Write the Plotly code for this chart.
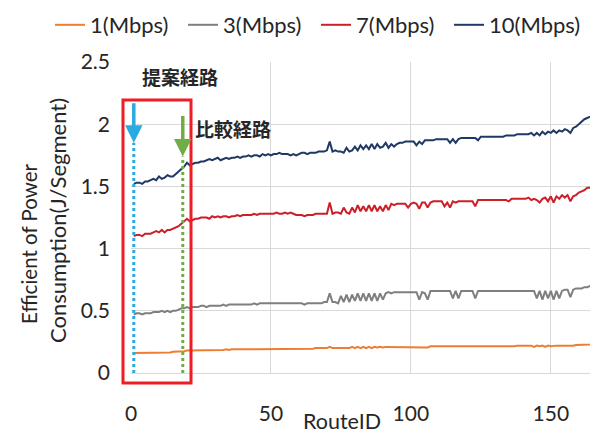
import plotly.graph_objects as go

route_ids = list(range(1, 167))

mbps1 = [0.16,0.16,0.16,0.16,0.16,0.16,0.16,0.165,0.165,0.165,
         0.165,0.165,0.165,0.165,0.17,0.17,0.17,0.17,0.175,0.18,
         0.18,0.18,0.18,0.18,0.185,0.185,0.185,0.185,0.185,0.185,
         0.185,0.185,0.185,0.19,0.185,0.19,0.19,0.19,0.19,0.19,
         0.19,0.19,0.19,0.19,0.19,0.19,0.195,0.19,0.195,0.195,
         0.195,0.195,0.195,0.195,0.195,0.195,0.195,0.195,0.195,0.195,
         0.195,0.195,0.195,0.195,0.195,0.2,0.2,0.2,0.2,0.2,
         0.21,0.2,0.2,0.2,0.205,0.2,0.205,0.2,0.21,0.2,
         0.21,0.2,0.21,0.2,0.21,0.2,0.21,0.205,0.21,0.205,
         0.21,0.21,0.21,0.21,0.21,0.21,0.21,0.21,0.205,0.21,
         0.21,0.21,0.205,0.21,0.21,0.205,0.215,0.215,0.215,0.215,
         0.215,0.21,0.215,0.21,0.215,0.215,0.215,0.215,0.215,0.21,
         0.215,0.215,0.21,0.215,0.215,0.215,0.215,0.215,0.215,0.215,
         0.215,0.215,0.215,0.215,0.215,0.215,0.215,0.22,0.22,0.22,
         0.22,0.215,0.22,0.21,0.22,0.215,0.22,0.21,0.22,0.215,
         0.22,0.22,0.22,0.22,0.22,0.215,0.22,0.22,0.225,0.225,
         0.225,0.23,0.23,0.23,0.235,0.235]

mbps3 = [0.47,0.48,0.48,0.47,0.48,0.48,0.48,0.49,0.49,0.49,
         0.50,0.49,0.50,0.49,0.50,0.50,0.51,0.52,0.52,0.53,
         0.52,0.53,0.53,0.53,0.54,0.54,0.53,0.54,0.54,0.54,
         0.54,0.54,0.55,0.54,0.55,0.55,0.55,0.55,0.55,0.55,
         0.55,0.55,0.55,0.56,0.55,0.56,0.56,0.56,0.56,0.56,
         0.56,0.56,0.56,0.56,0.56,0.56,0.56,0.56,0.56,0.56,
         0.56,0.55,0.56,0.56,0.56,0.56,0.56,0.56,0.57,0.57,
         0.64,0.57,0.57,0.56,0.62,0.57,0.63,0.57,0.63,0.58,
         0.64,0.58,0.64,0.58,0.64,0.58,0.64,0.58,0.64,0.59,
         0.64,0.65,0.64,0.65,0.65,0.65,0.65,0.65,0.65,0.65,
         0.65,0.65,0.59,0.65,0.64,0.59,0.66,0.66,0.66,0.66,
         0.66,0.66,0.66,0.66,0.60,0.66,0.60,0.66,0.66,0.66,
         0.66,0.66,0.60,0.66,0.66,0.66,0.66,0.66,0.66,0.66,
         0.66,0.66,0.66,0.66,0.66,0.66,0.66,0.66,0.66,0.66,
         0.66,0.66,0.66,0.66,0.60,0.66,0.59,0.66,0.60,0.66,
         0.59,0.66,0.60,0.66,0.67,0.67,0.61,0.67,0.68,0.68,
         0.68,0.69,0.69,0.70,0.70,0.70]

mbps7 = [1.10,1.11,1.11,1.10,1.12,1.12,1.12,1.13,1.14,1.13,
         1.15,1.13,1.15,1.15,1.16,1.17,1.18,1.20,1.22,1.24,
         1.22,1.23,1.24,1.24,1.25,1.25,1.25,1.24,1.26,1.25,
         1.26,1.25,1.26,1.26,1.25,1.26,1.26,1.27,1.26,1.27,
         1.27,1.27,1.27,1.28,1.27,1.28,1.28,1.28,1.28,1.28,
         1.28,1.29,1.28,1.28,1.29,1.28,1.29,1.28,1.27,1.27,
         1.27,1.26,1.27,1.27,1.27,1.28,1.28,1.28,1.28,1.28,
         1.37,1.28,1.29,1.29,1.28,1.33,1.29,1.28,1.33,1.29,
         1.35,1.30,1.34,1.30,1.35,1.30,1.35,1.30,1.34,1.30,
         1.35,1.31,1.36,1.35,1.36,1.36,1.36,1.36,1.33,1.36,
         1.37,1.36,1.32,1.37,1.37,1.33,1.37,1.38,1.38,1.38,
         1.38,1.34,1.37,1.33,1.38,1.37,1.38,1.38,1.38,1.38,
         1.38,1.38,1.34,1.39,1.39,1.39,1.39,1.39,1.39,1.39,
         1.39,1.39,1.39,1.39,1.38,1.40,1.40,1.40,1.40,1.40,
         1.40,1.41,1.39,1.40,1.39,1.37,1.40,1.41,1.38,1.42,
         1.37,1.42,1.40,1.43,1.41,1.43,1.38,1.42,1.43,1.45,
         1.46,1.47,1.49,1.49,1.50,1.51]

mbps10 = [1.52,1.53,1.53,1.52,1.54,1.54,1.55,1.56,1.55,1.58,
          1.56,1.57,1.59,1.58,1.58,1.60,1.62,1.64,1.66,1.69,
          1.67,1.68,1.69,1.69,1.70,1.70,1.71,1.72,1.71,1.72,
          1.73,1.71,1.72,1.73,1.72,1.73,1.73,1.74,1.73,1.74,
          1.74,1.75,1.74,1.75,1.75,1.74,1.76,1.75,1.76,1.75,
          1.76,1.76,1.77,1.76,1.76,1.76,1.75,1.76,1.75,1.76,
          1.77,1.77,1.76,1.77,1.77,1.77,1.78,1.78,1.78,1.79,
          1.86,1.78,1.79,1.78,1.78,1.77,1.81,1.78,1.79,1.82,
          1.79,1.83,1.80,1.83,1.80,1.84,1.80,1.84,1.81,1.82,
          1.85,1.81,1.84,1.82,1.84,1.85,1.85,1.86,1.86,1.86,
          1.86,1.83,1.86,1.84,1.87,1.87,1.87,1.87,1.88,1.88,
          1.88,1.88,1.88,1.85,1.88,1.85,1.88,1.89,1.89,1.89,
          1.89,1.89,1.89,1.87,1.90,1.90,1.90,1.90,1.90,1.90,
          1.90,1.90,1.90,1.91,1.91,1.91,1.91,1.92,1.92,1.92,
          1.92,1.92,1.93,1.91,1.93,1.91,1.94,1.92,1.94,1.93,
          1.95,1.93,1.95,1.94,1.96,1.95,1.93,1.97,1.98,2.00,
          2.02,2.04,2.05,2.06,2.07,2.09]

series_names = ["1(Mbps)", "3(Mbps)", "7(Mbps)", "10(Mbps)"]
series_colors = ["#ED7D31", "#7F7F7F", "#CC1F2A", "#1F3864"]
series_values = [mbps1, mbps3, mbps7, mbps10]

proposed_route = 1
compared_route = 18.5
y_ticks = [0, 0.5, 1, 1.5, 2, 2.5]
x_ticks = [0, 50, 100, 150]

FONT = "Lato, 'Liberation Sans', Arial, sans-serif"
CJK = "'Noto Sans CJK JP', sans-serif"
TXT = "#262626"

# page body has an 8px margin; plot area spans page x 131..597, y 62..373
PW, PH = 466.0, 311.0
def px(x):
    return (x - 131) / PW
def py(y):
    return (373 - y) / PH

fig = go.Figure()
for name, color, vals in zip(series_names, series_colors, series_values):
    fig.add_trace(go.Scatter(x=route_ids, y=vals, mode="lines", name=name,
                             line=dict(color=color, width=2)))

blue = "#29ABE2"
green = "#70AD47"
blue_tip = 1.85
green_tip = 1.74

# dotted verticals
fig.add_shape(type="line", xref="x", yref="y", x0=proposed_route, x1=proposed_route,
              y0=0, y1=blue_tip, line=dict(color=blue, width=3, dash="dot"))
fig.add_shape(type="line", xref="x", yref="y", x0=compared_route, x1=compared_route,
              y0=0, y1=green_tip, line=dict(color=green, width=3, dash="dot"))

# red box
fig.add_shape(type="rect", xref="paper", yref="paper",
              x0=px(123), x1=px(191), y0=py(383), y1=py(100),
              line=dict(color="#EE1C25", width=3), fillcolor="rgba(0,0,0,0)")

# arrows
fig.add_annotation(x=proposed_route, y=blue_tip, xref="x", yref="y", ax=0, ay=-41,
                   text="", showarrow=True, arrowhead=2, arrowsize=1.0,
                   arrowwidth=3.5, arrowcolor=blue, standoff=0)
fig.add_annotation(x=compared_route, y=green_tip, xref="x", yref="y", ax=0, ay=-42,
                   text="", showarrow=True, arrowhead=2, arrowsize=1.0,
                   arrowwidth=3.5, arrowcolor=green, standoff=0)

def label(x, y, text, size, family, angle=0):
    fig.add_annotation(x=px(x), y=py(y), xref="paper", yref="paper",
                       xanchor="center", yanchor="middle", text=text,
                       showarrow=False, textangle=angle, borderpad=0,
                       font=dict(family=family, size=size, color=TXT))

# route labels
label(180, 76, "<b>提案経路</b>", 19, CJK)
label(233, 128, "<b>比較経路</b>", 19, CJK)

# axis titles
label(29, 244, "Efficient of Power", 20.5, FONT, -90)
label(57, 221, "Consumption(J/Segment)", 22, FONT, -90)
label(342, 421, "RouteID", 21.5, FONT)

fig.update_layout(
    width=590, height=426,
    margin=dict(l=123, r=1, t=54, b=61, autoexpand=False),
    paper_bgcolor="white", plot_bgcolor="white",
    font=dict(family=FONT, size=20, color=TXT),
    showlegend=True,
    legend=dict(orientation="h", x=px(50), xanchor="left",
                y=py(25), yanchor="middle",
                font=dict(family=FONT, size=22, color=TXT),
                entrywidth=88, entrywidthmode="pixels",
                bgcolor="rgba(0,0,0,0)", itemwidth=30),
    xaxis=dict(range=[0, 166.5], tickvals=x_ticks, showgrid=True,
               gridcolor="#D9D9D9", gridwidth=1, zeroline=False,
               showline=True, linecolor="#D9D9D9", linewidth=1,
               ticks="", ticklabelstandoff=22,
               tickfont=dict(family=FONT, size=21, color=TXT)),
    yaxis=dict(range=[0, 2.5], tickvals=y_ticks, showgrid=True,
               gridcolor="#D9D9D9", gridwidth=1, zeroline=False,
               showline=False, ticks="", ticklabelstandoff=20,
               tickfont=dict(family=FONT, size=21, color=TXT)),
)

fig.write_html("out.html")
